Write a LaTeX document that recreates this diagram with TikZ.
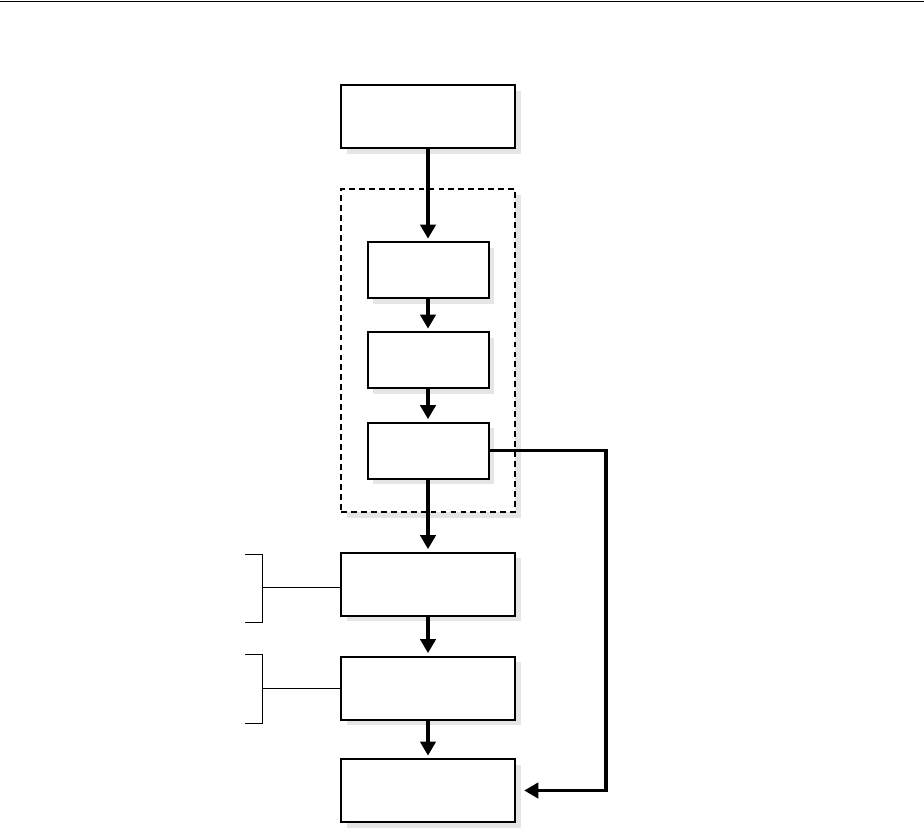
\documentclass[tikz,border=0pt]{standalone}
\usepackage{tikz}
\usetikzlibrary{arrows.meta,shadows}
\definecolor{ombra}{HTML}{E5E5E5}
\tikzset{
  ombreggiato/.style={drop shadow={shadow xshift=5pt, shadow yshift=-5pt, fill=ombra, opacity=1}},
  blocco/.style={draw, line width=1.7pt, fill=white, inner sep=0pt, ombreggiato},
  largo/.style={minimum width=174*0.03cm, minimum height=63*0.03cm},
  stretto/.style={minimum width=121*0.03cm, minimum height=56*0.03cm},
  gruppo/.style={draw, line width=1.2pt, dash pattern=on 5pt off 3.5pt, fill=white, inner sep=0pt, ombreggiato},
  freccia/.style={line width=3pt, shorten >=2pt, -{Triangle[length=12pt,width=13pt]}},
  parentesi/.style={line width=0.85pt},
}
\begin{document}
\begin{tikzpicture}[x=0.03cm, y=-0.03cm]
  \useasboundingbox (0,0) rectangle (924,828);
  % linea in alto
  \draw[line width=1.2pt] (0,1.5) -- (924,1.5);
  % riquadro tratteggiato
  \node[gruppo, minimum width=174*0.03cm, minimum height=323*0.03cm] (grp) at (428,350.5) {};
  % blocchi larghi
  \node[blocco, largo] (A) at (428,116.5) {};
  \node[blocco, largo] (E) at (428,584) {};
  \node[blocco, largo] (F) at (428,688) {};
  \node[blocco, largo] (G) at (428,790.5) {};
  % blocchi dentro il riquadro
  \foreach \n/\y in {B/270, C/360, D/450.5}
    \node[blocco, stretto] (\n) at (428,\y) {};
  % frecce verticali
  \foreach \a/\b in {A/B, B/C, C/D, D/E, E/F, F/G}
    \draw[freccia] (\a) -- (\b);
  % ritorno a destra
  \coordinate (giro) at (606,450.5);
  \draw[freccia, shorten >=7pt] (D.east) -- (giro) |- (G.east);
  % parentesi a sinistra
  \coordinate (p1) at (262,587);
  \coordinate (p2) at (262,688);
  \draw[parentesi] (245,554) -- (262,554) -- (262,622) -- (245,622);
  \draw[parentesi] (p1) -- (p1 -| E.west);
  \draw[parentesi] (245,654) -- (262,654) -- (262,723) -- (245,723);
  \draw[parentesi] (p2) -- (p2 -| F.west);
\end{tikzpicture}
\end{document}
